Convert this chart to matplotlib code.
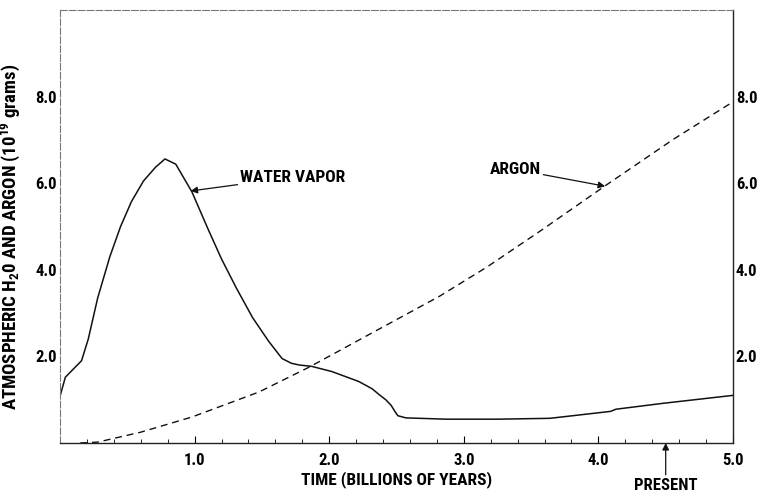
import matplotlib
matplotlib.use("Agg")
import matplotlib.pyplot as plt
from matplotlib.ticker import MultipleLocator
from matplotlib import font_manager

# pick a narrow face if one is installed, the scan uses a condensed bold type
installed = {f.name for f in font_manager.fontManager.ttflist}
family = 'DejaVu Sans'
for name in ['Liberation Sans Narrow', 'Roboto Condensed', 'Open Sans Condensed', 'Noto Sans Condensed']:
    if name in installed:
        family = name
        break
plt.rcParams['font.family'] = [family, 'DejaVu Sans']
plt.rcParams['font.stretch'] = 'condensed'
plt.rcParams['font.weight'] = 'bold'
plt.rcParams['mathtext.fontset'] = 'custom'
plt.rcParams['mathtext.rm'] = family + ':bold'
plt.rcParams['mathtext.bf'] = family + ':bold'
plt.rcParams['mathtext.it'] = family + ':bold'

# water vapor curve
vapor_t = [0.0, 0.04, 0.1, 0.16, 0.21, 0.28, 0.37, 0.45, 0.53, 0.62, 0.71, 0.78,
           0.86, 0.98, 1.1, 1.2, 1.31, 1.43, 1.55, 1.65, 1.72, 1.78, 1.87, 2.02,
           2.22, 2.32, 2.37, 2.42, 2.46, 2.49, 2.51, 2.57, 2.87, 3.25, 3.64, 4.09,
           4.13, 4.49, 5.0]
vapor_m = [1.08, 1.52, 1.71, 1.9, 2.4, 3.35, 4.3, 5.0, 5.57, 6.05, 6.37, 6.56,
           6.44, 5.8, 4.94, 4.25, 3.58, 2.9, 2.35, 1.95, 1.84, 1.8, 1.77, 1.65,
           1.42, 1.25, 1.12, 1.0, 0.87, 0.72, 0.63, 0.58, 0.55, 0.55, 0.57, 0.73,
           0.78, 0.92, 1.1]

# argon curve
argon_t = [0.15, 0.28, 0.6, 0.98, 1.48, 1.85, 2.37, 2.82, 3.17, 3.57, 4.05, 4.56, 5.0]
argon_m = [0.0, 0.02, 0.25, 0.6, 1.18, 1.75, 2.63, 3.39, 4.06, 4.9, 5.94, 7.02, 7.88]

x_ticks = [1.0, 2.0, 3.0, 4.0, 5.0]
y_ticks = [2.0, 4.0, 6.0, 8.0]
present = 4.5

fig = plt.figure(figsize=(7.6, 4.96), dpi=100)
ax = fig.add_axes([60 / 760, 53 / 496, 673 / 760, 433 / 496])

ax.plot(vapor_t, vapor_m, color='#111111', lw=1.1)
ax.plot(argon_t, argon_m, color='#111111', lw=1.0, dashes=(5, 3.5))

ax.set_xlim(0, 5.0)
ax.set_ylim(0, 10.0)

ax.set_xticks(x_ticks)
ax.set_xticklabels([f'{v:.1f}' for v in x_ticks])
ax.xaxis.set_minor_locator(MultipleLocator(0.2))
ax.tick_params(axis='x', which='major', direction='in', length=5, width=0.8, pad=7, labelsize=12)
ax.tick_params(axis='x', which='minor', direction='in', length=3, width=0.6)

ax.set_yticks(y_ticks)
ax.set_yticklabels([f'{v:.1f}' for v in y_ticks])
ax.tick_params(axis='y', which='major', length=0, pad=2, labelsize=12,
               right=True, labelright=True)

for side in ['left', 'top']:
    ax.spines[side].set_color('#777777')
    ax.spines[side].set_linewidth(0.8)
    ax.spines[side].set_linestyle((0, (6, 2)))
for side in ['right', 'bottom']:
    ax.spines[side].set_color('#222222')
    ax.spines[side].set_linewidth(1.0)

ax.set_xlabel('TIME (BILLIONS OF YEARS)', fontsize=12.5, fontweight='bold')
ax.xaxis.set_label_coords(0.5, -0.065)
ax.set_ylabel('ATMOSPHERIC H$_{2}$0 AND ARGON (10$^{19}$ grams)',
              fontsize=13.5, fontweight='bold')
ax.yaxis.set_label_coords(-0.056, 0.476)

arrow = dict(arrowstyle='-|>', color='#111111', lw=0.9, mutation_scale=10, shrinkA=0, shrinkB=0)
ax.annotate('WATER VAPOR', xy=(0.97, 5.82), xytext=(1.34, 6.14),
            fontsize=12.5, fontweight='bold', va='center', ha='left', arrowprops=arrow)
ax.annotate('ARGON', xy=(4.05, 5.93), xytext=(3.57, 6.32),
            fontsize=12.5, fontweight='bold', va='center', ha='right', arrowprops=arrow)
ax.annotate('PRESENT', xy=(present, 0.0), xycoords='data',
            xytext=(present, -0.8), textcoords='data',
            fontsize=12, fontweight='bold', va='top', ha='center',
            arrowprops=arrow, annotation_clip=False)

fig.savefig('out.png', dpi=100)
